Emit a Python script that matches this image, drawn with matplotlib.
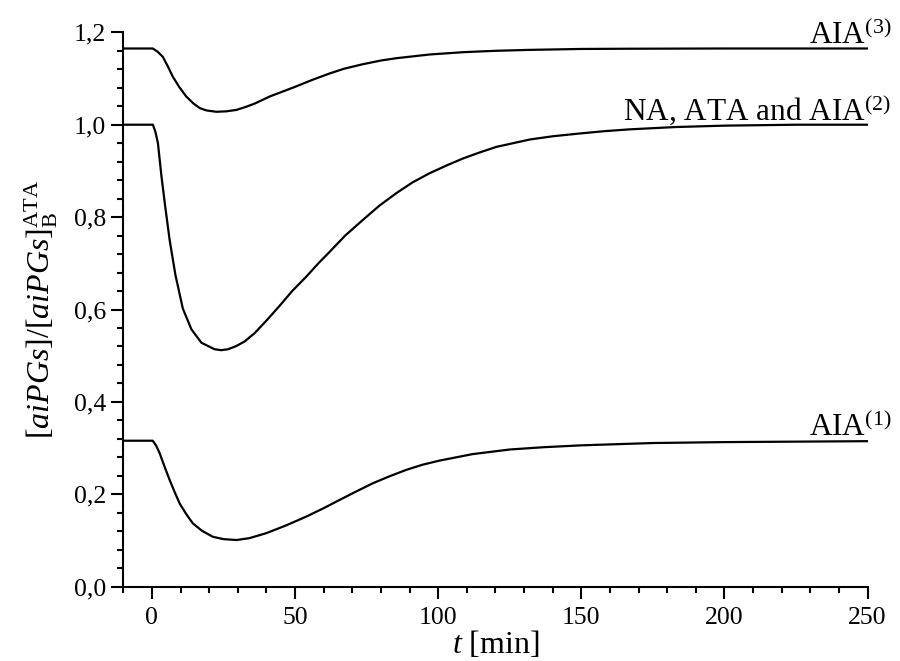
"""Relative aiPGs level after a dose, three cases."""

import matplotlib

matplotlib.use("Agg")
import matplotlib.pyplot as plt
from matplotlib.ticker import FuncFormatter, MultipleLocator

# values
t_aia3 = [-10, 0.3, 2, 3.8, 5.5, 7.3, 9.5, 12, 14.5, 16.7, 19, 22.5, 26, 29.5, 33, 36,
          41.1, 50, 56, 62.1, 67, 73.7, 80, 85.4, 97, 108.7, 120, 132, 150, 167, 200, 250]
y_aia3 = [1.165, 1.165, 1.158, 1.147, 1.127, 1.104, 1.082, 1.061, 1.046, 1.036, 1.031,
          1.028, 1.029, 1.032, 1.039, 1.046, 1.061, 1.082, 1.097, 1.111, 1.121, 1.131,
          1.139, 1.144, 1.152, 1.157, 1.160, 1.162, 1.164, 1.1645, 1.165, 1.165]

t_mid = [-10, 0.35, 1.2, 2.1, 3.3, 4.7, 6.2, 8.2, 10.8, 13.8, 17.3, 21.9, 24.2, 26.6,
         29.5, 32.4, 35.9, 40, 44.6, 49, 53.9, 58, 62.1, 67.5, 73.7, 79.5, 85.4, 91, 97,
         103, 108.7, 114.5, 120.3, 132, 140, 149.4, 158, 166.9, 183, 200, 225, 250]
y_mid = [1.0, 1.0, 0.985, 0.960, 0.890, 0.820, 0.750, 0.675, 0.602, 0.557, 0.528, 0.514,
         0.512, 0.514, 0.521, 0.531, 0.549, 0.576, 0.608, 0.640, 0.671, 0.699, 0.725,
         0.760, 0.794, 0.825, 0.852, 0.875, 0.895, 0.912, 0.927, 0.940, 0.952, 0.968,
         0.975, 0.981, 0.986, 0.990, 0.995, 0.998, 1.0, 1.0]

t_aia1 = [-10, 0.3, 1.5, 2.7, 4.4, 6.2, 8, 9.7, 12, 14.3, 17.5, 21.3, 25, 29.5, 34, 40,
          47, 54, 60, 65.6, 71, 77.2, 83, 88.9, 94.5, 100.5, 112, 125, 137, 150, 175,
          200, 250]
y_aia1 = [0.316, 0.316, 0.305, 0.289, 0.260, 0.231, 0.204, 0.180, 0.157, 0.137, 0.121,
          0.108, 0.103, 0.101, 0.105, 0.116, 0.133, 0.152, 0.170, 0.188, 0.205, 0.224,
          0.239, 0.253, 0.264, 0.273, 0.287, 0.297, 0.302, 0.306, 0.311, 0.313, 0.315]

curves = [
    (t_aia3, y_aia3, r"AIA$^{(3)}$"),
    (t_mid, y_mid, r"NA, ATA and AIA$^{(2)}$"),
    (t_aia1, y_aia1, r"AIA$^{(1)}$"),
]

plt.rcParams.update(
    {
        "font.family": "Liberation Serif",
        "mathtext.fontset": "custom",
        "mathtext.rm": "Liberation Serif",
        "mathtext.it": "Liberation Serif:italic",
        "mathtext.bf": "Liberation Serif:bold",
        "axes.linewidth": 1.5,
    }
)

fig = plt.figure(figsize=(9, 6.61), dpi=100)
ax = fig.add_axes([0.137, 0.1124, 0.827, 0.8387])

for t, y, label in curves:
    ax.plot(t, y, color="black", linewidth=1.6, solid_joinstyle="round")
    ax.annotate(
        label,
        xy=(250, y[-1]),
        xytext=(17, 3.5),
        textcoords="offset points",
        ha="right",
        va="baseline",
        fontsize=22.5,
        annotation_clip=False,
    )

ax.set_xlim(-10, 250)
ax.set_ylim(0, 1.2)
ax.spines["top"].set_visible(False)
ax.spines["right"].set_visible(False)

ax.xaxis.set_major_locator(MultipleLocator(50))
ax.xaxis.set_minor_locator(MultipleLocator(10))
ax.yaxis.set_major_locator(MultipleLocator(0.2))
ax.yaxis.set_minor_locator(MultipleLocator(0.04))
ax.yaxis.set_major_formatter(FuncFormatter(lambda v, _: f"{v:.1f}".replace(".", ",")))
ax.tick_params(which="major", direction="out", length=8.5, width=1.5, labelsize=18.5)
ax.tick_params(axis="x", which="major", pad=6)
ax.tick_params(axis="y", which="major", pad=4)
ax.tick_params(which="minor", direction="out", length=4, width=1.5)

ax.set_xlabel(r"$t$ [min]", fontsize=23, labelpad=0)
ax.set_ylabel(r"$[\mathit{aiPGs}]/[\mathit{aiPGs}]_{\mathrm{B}}^{\mathrm{ATA}}$", fontsize=23, labelpad=10)

fig.savefig("out.png", dpi=100)
